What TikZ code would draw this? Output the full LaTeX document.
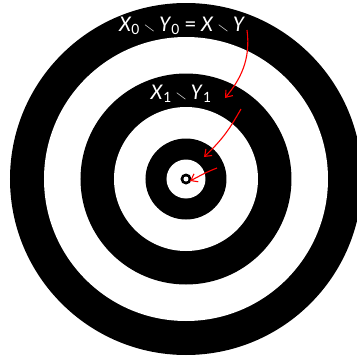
\documentclass[tikz,border=0pt]{standalone}
\usepackage{amssymb}
\usepackage{fontspec}
\setmainfont{Carlito}
\usetikzlibrary{arrows.meta}
\newcommand{\smin}{\,{\fontsize{15}{15}\selectfont$\smallsetminus$}\,}

\begin{document}
\begin{tikzpicture}[x=1pt,y=1pt,
  lbl/.style={text=white,inner sep=0pt,font=\fontsize{22.5}{26}\selectfont},
  hop/.style={red,line width=1.1pt,-{Straight Barb[length=6pt,width=9pt]}}]
\clip (0,0) rectangle (357,360);
\fill[white] (0,0) rectangle (357,360);
% rings, outermost first
\foreach \r/\c in {176/black,142/white,105.5/black,72/white,40.5/black,19.5/white,5.5/black,2.5/white}
  \fill[\c] (186,181) circle[radius=\r];
\node[lbl] (lvl0) at (182,334) {\textit{X}\textsubscript{0}\smin\textit{Y}\textsubscript{0} = \textit{X}\smin\textit{Y}};
\node[lbl] (lvl1) at (181,266) {\textit{X}\textsubscript{1}\smin\textit{Y}\textsubscript{1}};
\coordinate (s0) at (247,330);
\coordinate (e0) at (225,262);
\coordinate (s1) at (241,251);
\coordinate (e1) at (204,203);
\coordinate (s2) at (217,192);
\coordinate (e2) at (190,179);
\draw[hop] (s0) .. controls (251,300) and (240,280) .. (e0);
\draw[hop] (s1) .. controls (230,232) and (224,222) .. (e1);
\draw[hop] (s2) .. controls (207,188) .. (e2);
\end{tikzpicture}
\end{document}
